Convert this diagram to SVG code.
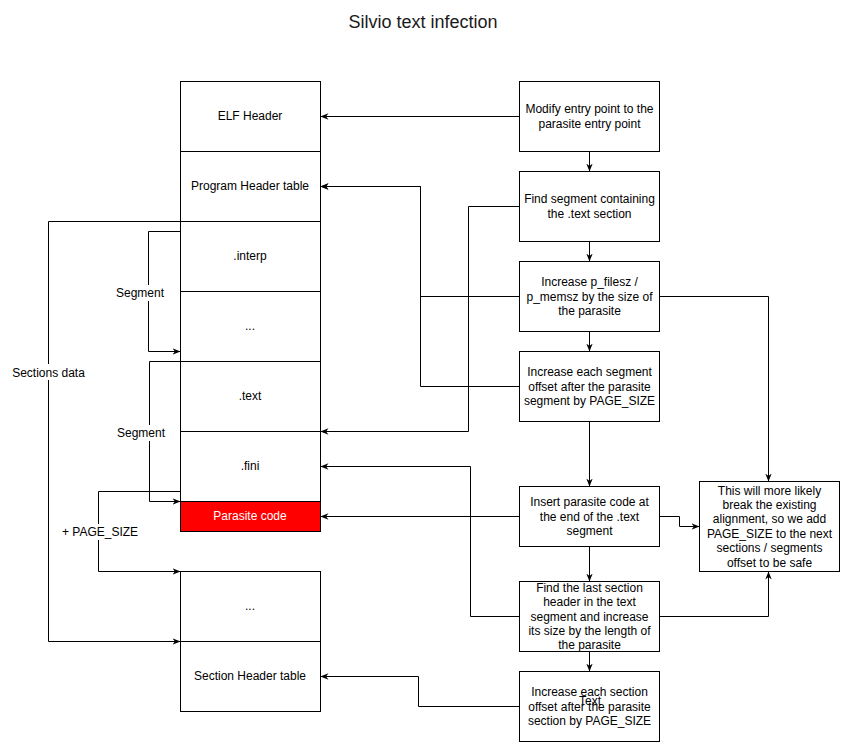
<svg xmlns="http://www.w3.org/2000/svg" width="849" height="752" viewBox="0 0 849 752">
<style>
.box{fill:#fff;stroke:#000;stroke-width:1}
.red{fill:#ff0000;stroke:#000;stroke-width:1}
text{font-family:"Liberation Sans",Arial,Helvetica,sans-serif;font-size:12px;fill:#000;text-anchor:middle}
.w{fill:#fff}
.title{font-size:18px;fill:#1a1a1a}
.edge{fill:none;stroke:#000;stroke-width:1;marker-end:url(#arr)}
.lbg{fill:#fff}
</style>
<defs>
<marker id="arr" markerUnits="userSpaceOnUse" viewBox="0 0 10 10" refX="10" refY="5" markerWidth="8" markerHeight="8" orient="auto">
<path d="M0,1 L10,5 L0,9 L3,5 Z" fill="#000"/>
</marker>
</defs>
<rect width="849" height="752" fill="#fff"/>
<text class="title" x="423" y="28">Silvio text infection</text>

<g id="connectors">
<path class="edge" d="M519.5,116.5 L320.5,116.5"/>
<path class="edge" d="M589.5,151.5 L589.5,171.5"/>
<path class="edge" d="M589.5,241.5 L589.5,261.5"/>
<path class="edge" d="M589.5,331.5 L589.5,351.5"/>
<path class="edge" d="M589.5,421.5 L589.5,486.5"/>
<path class="edge" d="M589.5,546.5 L589.5,581.5"/>
<path class="edge" d="M589.5,651.5 L589.5,671.5"/>
<path class="edge" d="M519.5,206.5 L468.5,206.5 L468.5,431.5 L320.5,431.5"/>
<path class="edge" d="M519.5,296.5 L420.5,296.5 L420.5,186.5 L320.5,186.5"/>
<path class="edge" d="M519.5,386.5 L420.5,386.5 L420.5,186.5 L320.5,186.5"/>
<path class="edge" d="M659.5,296.5 L768.5,296.5 L768.5,481.5"/>
<path class="edge" d="M659.5,516.5 L679.5,516.5 L679.5,526.5 L699.5,526.5"/>
<path class="edge" d="M519.5,516.5 L320.5,516.5"/>
<path class="edge" d="M519.5,616.5 L470.5,616.5 L470.5,466.5 L320.5,466.5"/>
<path class="edge" d="M659.5,616.5 L768.5,616.5 L768.5,571.5"/>
<path class="edge" d="M519.5,706.5 L418.5,706.5 L418.5,676.5 L320.5,676.5"/>
<path class="edge" d="M180.5,221.5 L48.5,221.5 L48.5,641.5 L180.5,641.5"/>
<path class="edge" d="M180.5,231.5 L148.5,231.5 L148.5,351.5 L180.5,351.5"/>
<path class="edge" d="M180.5,361.5 L149.5,361.5 L149.5,501.5 L180.5,501.5"/>
<path class="edge" d="M180.5,491.5 L98.5,491.5 L98.5,571.5 L180.5,571.5"/>
<rect class="lbg" x="10" y="364" width="77" height="16"/>
<text x="48.5" y="377">Sections data</text>
<rect class="lbg" x="114" y="285" width="52" height="16"/>
<text x="140" y="297">Segment</text>
<rect class="lbg" x="115" y="425" width="52" height="16"/>
<text x="141" y="437">Segment</text>
<rect class="lbg" x="62" y="524" width="76" height="16"/>
<text x="100" y="536">+ PAGE_SIZE</text>
</g>

<g id="elf-header"><rect class="box" x="180.5" y="81.5" width="140" height="70"/><text x="250" y="120">ELF Header</text></g>
<g id="program-header-table"><rect class="box" x="180.5" y="151.5" width="140" height="70"/><text x="250" y="190">Program Header table</text></g>
<g id="interp"><rect class="box" x="180.5" y="221.5" width="140" height="70"/><text x="250" y="260">.interp</text></g>
<g id="dots1"><rect class="box" x="180.5" y="291.5" width="140" height="70"/><text x="250" y="330">...</text></g>
<g id="text-section"><rect class="box" x="180.5" y="361.5" width="140" height="70"/><text x="250" y="400">.text</text></g>
<g id="fini"><rect class="box" x="180.5" y="431.5" width="140" height="70"/><text x="250" y="470">.fini</text></g>
<g id="parasite-code"><rect class="red" x="180.5" y="501.5" width="140" height="30"/><text class="w" x="250" y="520">Parasite code</text></g>
<g id="dots2"><rect class="box" x="180.5" y="571.5" width="140" height="70"/><text x="250" y="610">...</text></g>
<g id="section-header-table"><rect class="box" x="180.5" y="641.5" width="140" height="70"/><text x="250" y="680">Section Header table</text></g>

<g id="modify-entry"><rect class="box" x="519.5" y="81.5" width="140" height="70"/>
<text x="589.5" y="113">Modify entry point to the</text><text x="589.5" y="128">parasite entry point</text></g>
<g id="find-segment"><rect class="box" x="519.5" y="171.5" width="140" height="70"/>
<text x="589.5" y="203">Find segment containing</text><text x="589.5" y="218">the .text section</text></g>
<g id="increase-filesz"><rect class="box" x="519.5" y="261.5" width="140" height="70"/>
<text x="589.5" y="286">Increase p_filesz /</text><text x="589.5" y="300.5">p_memsz by the size of</text><text x="589.5" y="315">the parasite</text></g>
<g id="increase-segment-offset"><rect class="box" x="519.5" y="351.5" width="140" height="70"/>
<text x="589.5" y="376">Increase each segment</text><text x="589.5" y="390.5">offset after the parasite</text><text x="589.5" y="405">segment by PAGE_SIZE</text></g>
<g id="insert-parasite"><rect class="box" x="519.5" y="486.5" width="140" height="60"/>
<text x="589.5" y="506">Insert parasite code at</text><text x="589.5" y="520.5">the end of the .text</text><text x="589.5" y="535">segment</text></g>
<g id="find-last-section"><rect class="box" x="519.5" y="581.5" width="140" height="70"/>
<text x="589.5" y="591.5">Find the last section</text><text x="589.5" y="606">header in the text</text><text x="589.5" y="620.5">segment and increase</text><text x="589.5" y="635">its size by the length of</text><text x="589.5" y="649">the parasite</text></g>
<g id="increase-section-offset"><rect class="box" x="519.5" y="671.5" width="140" height="70"/>
<text x="589.5" y="695.5">Increase each section</text><text x="589.5" y="710.5">offset after the parasite</text><text x="589.5" y="724.5">section by PAGE_SIZE</text></g>
<g id="alignment-note"><rect class="box" x="699.5" y="481.5" width="140" height="90"/>
<text x="769.5" y="495">This will more likely</text><text x="769.5" y="509">break the existing</text><text x="769.5" y="523">alignment, so we add</text><text x="769.5" y="537.5">PAGE_SIZE to the next</text><text x="769.5" y="552">sections / segments</text><text x="769.5" y="566.5">offset to be safe</text></g>
<g id="stray-text"><text x="590" y="705">Text</text></g>
</svg>
